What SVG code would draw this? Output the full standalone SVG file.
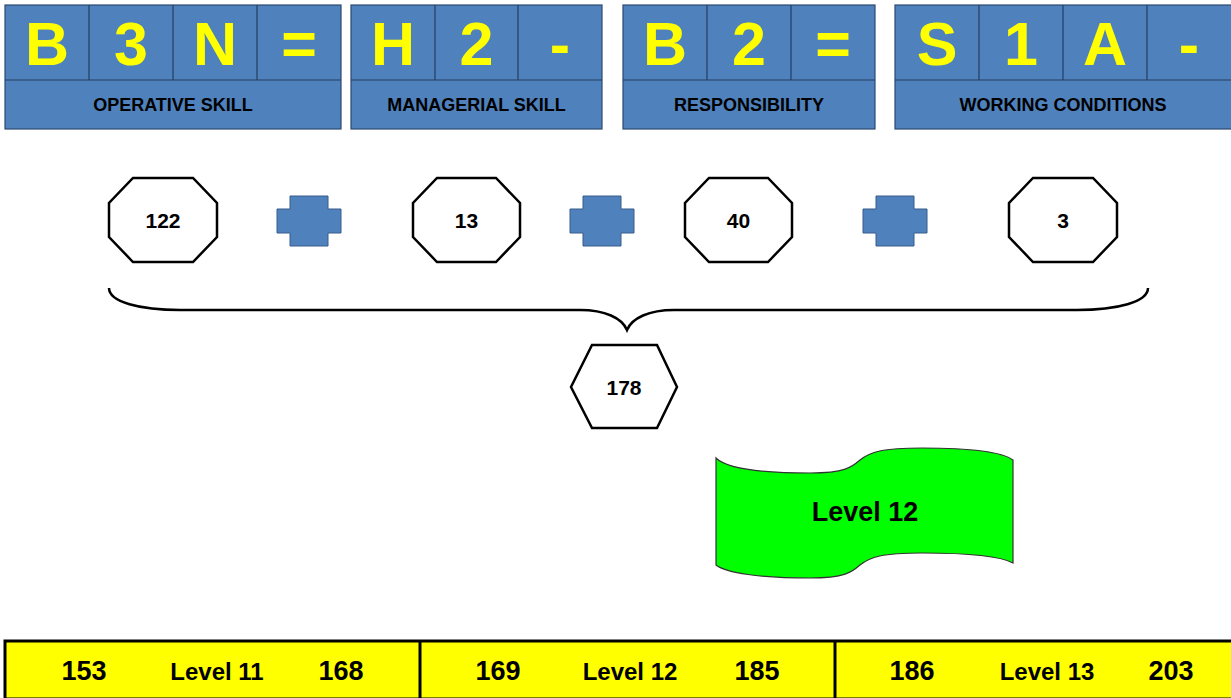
<svg xmlns="http://www.w3.org/2000/svg" width="1231" height="698" viewBox="0 0 1231 698">
  <defs>
    <style>
      .code { fill: #4F81BD; stroke: #2C4A70; stroke-width: 1.2; }
      .cell { stroke: #243F60; stroke-width: 1.2; }
      .big { font-family: "Liberation Sans", Arial, sans-serif; font-weight: bold; font-size: 61px; fill: #FFFF00; text-anchor: middle; }
      .cap { font-family: "Liberation Sans", Arial, sans-serif; font-weight: bold; font-size: 18px; fill: #000; text-anchor: middle; }
      .oct { fill: #FFFFFF; stroke: #000; stroke-width: 2.5; stroke-linejoin: miter; }
      .num { font-family: "Liberation Sans", Arial, sans-serif; font-weight: bold; font-size: 21px; fill: #000; text-anchor: middle; }
      .plus { fill: #4F81BD; stroke: #385D8A; stroke-width: 1; }
      .bar { font-family: "Liberation Sans", Arial, sans-serif; font-weight: bold; fill: #000; text-anchor: middle; }
      .bn { font-size: 27px; }
      .bl { font-size: 24px; }
    </style>
  </defs>
  <rect width="1231" height="698" fill="#FFFFFF"/>

  <!-- Grade code panels -->
  <g id="operative-skill">
    <rect class="code" x="5" y="5" width="336" height="124"/>
    <line class="cell" x1="5" y1="80" x2="341" y2="80"/>
    <line class="cell" x1="89" y1="5" x2="89" y2="80"/>
    <line class="cell" x1="173" y1="5" x2="173" y2="80"/>
    <line class="cell" x1="257" y1="5" x2="257" y2="80"/>
    <text class="big" x="47" y="65">B</text>
    <text class="big" x="131" y="65">3</text>
    <text class="big" x="215" y="65">N</text>
    <text class="big" x="299" y="65">=</text>
    <text class="cap" x="173" y="111">OPERATIVE SKILL</text>
  </g>
  <g id="managerial-skill">
    <rect class="code" x="351" y="5" width="251" height="124"/>
    <line class="cell" x1="351" y1="80" x2="602" y2="80"/>
    <line class="cell" x1="435" y1="5" x2="435" y2="80"/>
    <line class="cell" x1="518" y1="5" x2="518" y2="80"/>
    <text class="big" x="393" y="65">H</text>
    <text class="big" x="476.5" y="65">2</text>
    <text class="big" x="560" y="65">-</text>
    <text class="cap" x="476.5" y="111">MANAGERIAL SKILL</text>
  </g>
  <g id="responsibility">
    <rect class="code" x="623" y="5" width="252" height="124"/>
    <line class="cell" x1="623" y1="80" x2="875" y2="80"/>
    <line class="cell" x1="707" y1="5" x2="707" y2="80"/>
    <line class="cell" x1="791" y1="5" x2="791" y2="80"/>
    <text class="big" x="665" y="65">B</text>
    <text class="big" x="749" y="65">2</text>
    <text class="big" x="833" y="65">=</text>
    <text class="cap" x="749" y="111">RESPONSIBILITY</text>
  </g>
  <g id="working-conditions">
    <rect class="code" x="895" y="5" width="340" height="124"/>
    <line class="cell" x1="895" y1="80" x2="1235" y2="80"/>
    <line class="cell" x1="979" y1="5" x2="979" y2="80"/>
    <line class="cell" x1="1063" y1="5" x2="1063" y2="80"/>
    <line class="cell" x1="1147" y1="5" x2="1147" y2="80"/>
    <text class="big" x="937" y="65">S</text>
    <text class="big" x="1021" y="65">1</text>
    <text class="big" x="1105" y="65">A</text>
    <text class="big" x="1189" y="65">-</text>
    <text class="cap" x="1063" y="111">WORKING CONDITIONS</text>
  </g>

  <!-- Point values -->
  <g id="points-operative">
    <polygon class="oct" points="133,178 193,178 217,203 217,237 193,262 133,262 109,237 109,203"/>
    <text class="num" x="163" y="228">122</text>
  </g>
  <g id="plus-1">
    <polygon class="plus" points="290,196 328,196 328,209 341,209 341,233 328,233 328,246 290,246 290,233 277,233 277,209 290,209"/>
  </g>
  <g id="points-managerial">
    <polygon class="oct" points="437,178 496,178 520,203 520,237 496,262 437,262 413,237 413,203"/>
    <text class="num" x="466.5" y="228">13</text>
  </g>
  <g id="plus-2">
    <polygon class="plus" points="583,196 621,196 621,209 634,209 634,233 621,233 621,246 583,246 583,233 570,233 570,209 583,209"/>
  </g>
  <g id="points-responsibility">
    <polygon class="oct" points="709,178 768,178 792,203 792,237 768,262 709,262 685,237 685,203"/>
    <text class="num" x="738.5" y="228">40</text>
  </g>
  <g id="plus-3">
    <polygon class="plus" points="876,196 914,196 914,209 927,209 927,233 914,233 914,246 876,246 876,233 863,233 863,209 876,209"/>
  </g>
  <g id="points-conditions">
    <polygon class="oct" points="1033,178 1093,178 1117,203 1117,237 1093,262 1033,262 1009,237 1009,203"/>
    <text class="num" x="1063" y="228">3</text>
  </g>

  <!-- Summing brace -->
  <g id="connectors">
    <path d="M109,288 C109,302 140,310 180,310 L580,310 C605,310 622,318 627,330 C632,318 649,310 674,310 L1077,310 C1117,310 1148,302 1148,288" fill="none" stroke="#000" stroke-width="2.5"/>
  </g>

  <!-- Total -->
  <g id="total">
    <polygon class="oct" points="592,345 657,345 677,387 657,428 592,428 571,387"/>
    <text class="num" x="624" y="395">178</text>
  </g>

  <!-- Resulting level banner -->
  <g id="level-banner">
    <path d="M716,458 C726,468 760,473 810,473 C845,473 852,467 860,460 C870,452 882,448 922,448 C972,448 1002,452 1013,460 L1013,563 C1002,557 972,553 922,553 C882,553 870,557 860,565 C852,572 845,578 810,578 C760,578 726,573 716,565 Z" fill="#00FF00" stroke="#333" stroke-width="1.2"/>
    <text x="865" y="521" font-family="Liberation Sans, Arial, sans-serif" font-weight="bold" font-size="27" text-anchor="middle" fill="#000">Level 12</text>
  </g>

  <!-- Level scale -->
  <g id="level-scale">
    <rect x="5" y="641" width="1232" height="58" fill="#FFFF00" stroke="#000" stroke-width="3"/>
    <line x1="420" y1="641" x2="420" y2="698" stroke="#000" stroke-width="3"/>
    <line x1="835" y1="641" x2="835" y2="698" stroke="#000" stroke-width="3"/>
    <text class="bar bn" x="84" y="680">153</text>
    <text class="bar bl" x="217" y="680">Level 11</text>
    <text class="bar bn" x="341" y="680">168</text>
    <text class="bar bn" x="498" y="680">169</text>
    <text class="bar bl" x="630" y="680">Level 12</text>
    <text class="bar bn" x="757" y="680">185</text>
    <text class="bar bn" x="912" y="680">186</text>
    <text class="bar bl" x="1047" y="680">Level 13</text>
    <text class="bar bn" x="1171" y="680">203</text>
  </g>
</svg>
